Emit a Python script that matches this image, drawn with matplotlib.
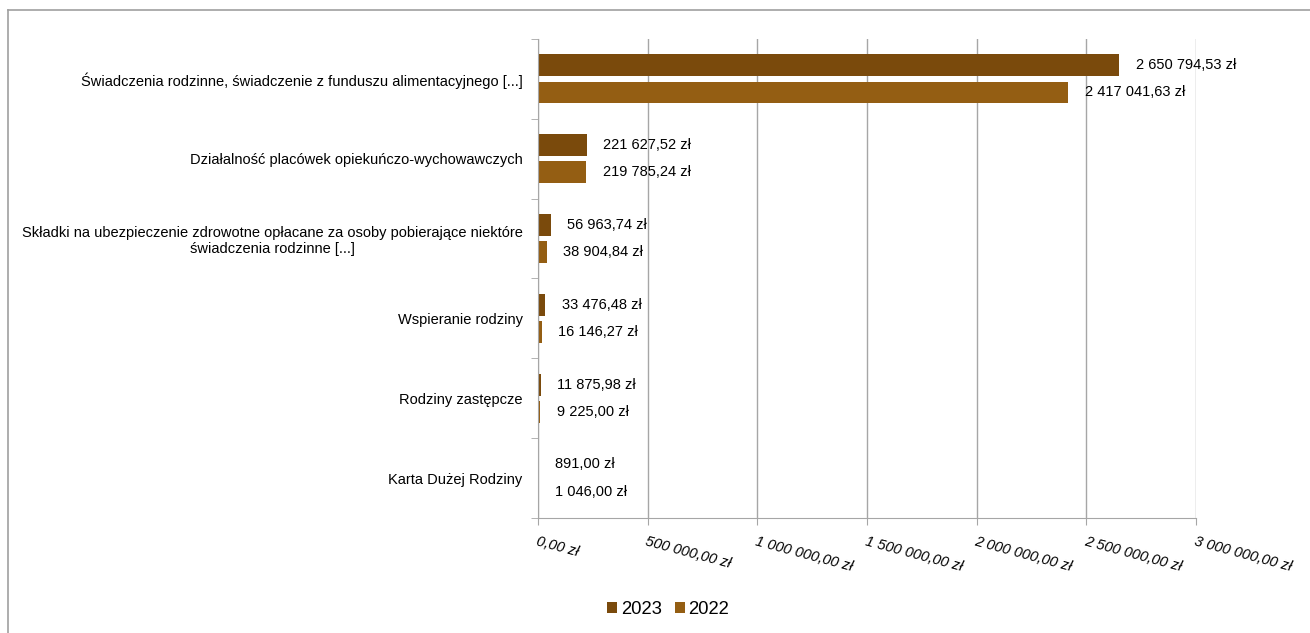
"""
    Matplotlib, grouped horizontal bars
"""
import matplotlib.pyplot as plt
import matplotlib.ticker as mticker
from matplotlib.lines import Line2D
import numpy as np

plt.rcParams['font.family'] = ['Liberation Sans', 'DejaVu Sans']

# data
categories = [
    "Świadczenia rodzinne, świadczenie z funduszu alimentacyjnego [...]",
    "Działalność placówek opiekuńczo-wychowawczych",
    "Składki na ubezpieczenie zdrowotne opłacane za osoby pobierające niektóre\nświadczenia rodzinne [...]",
    "Wspieranie rodziny",
    "Rodziny zastępcze",
    "Karta Dużej Rodziny",
]
values_2023 = [2650794.53, 221627.52, 56963.74, 33476.48, 11875.98, 891.00]
values_2022 = [2417041.63, 219785.24, 38904.84, 16146.27, 9225.00, 1046.00]
series_labels = ["2023", "2022"]
colors = ["#7a4a0c", "#945e13"]


def pln(v, pos=None):
    s = f"{v:,.2f}".replace(",", " ").replace(".", ",")
    return s + " zł"


fig = plt.figure(figsize=(13.1, 6.33), dpi=100)
ax = fig.add_axes([0.4107, 0.1817, 0.5023, 0.7567])

# outer frame (only top and left edges visible)
W, H = 1310, 633
fig.lines.append(Line2D([8 / W, 1.0], [1 - 10 / H, 1 - 10 / H], transform=fig.transFigure,
                        color="#a0a0a0", linewidth=1.2))
fig.lines.append(Line2D([8 / W, 8 / W], [0.0, 1 - 10 / H], transform=fig.transFigure,
                        color="#a0a0a0", linewidth=1.2))

y = np.arange(len(categories))
off = 0.17
h = 0.272
for vals, dy, col, lab in [(values_2023, -off, colors[0], series_labels[0]),
                           (values_2022, off, colors[1], series_labels[1])]:
    bars = ax.barh(y + dy, vals, height=h, color=col, label=lab)
    for b, v in zip(bars, vals):
        ax.annotate(pln(v), (b.get_width(), b.get_y() + b.get_height() / 2),
                    xytext=(12, 0), textcoords="offset points",
                    va="center", ha="left", fontsize=10.5)

ax.set_xlim(0, 3000000)
ax.set_ylim(len(categories) - 0.5, -0.5)
ax.xaxis.set_major_locator(mticker.MultipleLocator(500000))
ax.xaxis.set_major_formatter(mticker.FuncFormatter(pln))
ax.grid(axis="x", color="#a6a6a6", linewidth=1)
ax.set_axisbelow(True)

ax.set_yticks(y)
ax.set_yticklabels(categories, fontsize=10.5, ha="right")
for t in ax.get_yticklabels():
    t.set_multialignment("center")
ax.set_yticks(np.arange(-0.5, len(categories)), minor=True)
ax.tick_params(axis="y", which="major", length=0, pad=11)
ax.tick_params(axis="y", which="minor", length=5, color="#a6a6a6")
ax.tick_params(axis="x", length=5, color="#a6a6a6", pad=7)

for t in ax.get_xticklabels():
    t.set_rotation(-15)
    t.set_rotation_mode("anchor")
    t.set_ha("left")
    t.set_va("top")
    t.set_fontstyle("italic")
    t.set_fontsize(10.5)

for s in ["top", "right"]:
    ax.spines[s].set_visible(False)
for s in ["left", "bottom"]:
    ax.spines[s].set_color("#a6a6a6")

fig.legend(loc="lower center", bbox_to_anchor=(0.51, -0.002), ncol=2, frameon=False,
           fontsize=13.3, handlelength=0.55, handleheight=0.55, handletextpad=0.2,
           columnspacing=0.7)

plt.savefig("out.png")
